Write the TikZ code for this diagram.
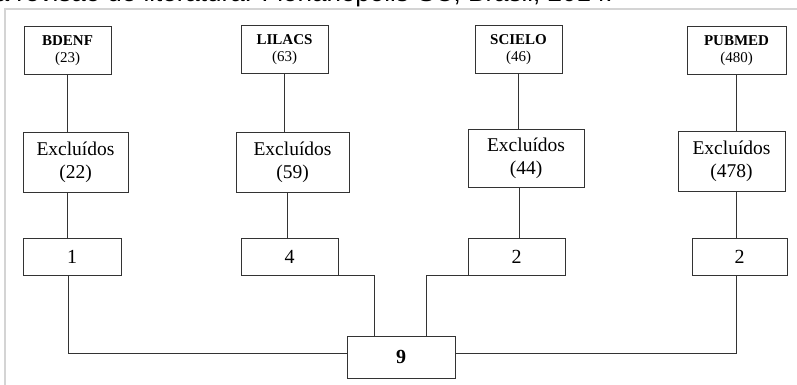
\documentclass[tikz,border=0pt]{standalone}
\usepackage{fontspec}
\setmainfont{Liberation Serif}
\newfontfamily\capfont{Liberation Sans}
\definecolor{ln}{HTML}{333333}
\definecolor{frame}{HTML}{D4D4D4}
\begin{document}
\begin{tikzpicture}[x=1pt,y=-1pt,
  box/.style={draw=ln, line width=1pt, rectangle, inner sep=0pt, align=center, fill=white},
  src/.style={box, minimum width=87pt, minimum height=48pt, font=\fontsize{15}{17}\selectfont},
  exc/.style={box, minimum height=60pt, font=\fontsize{19.5}{23}\selectfont},
  num/.style={box, minimum width=97pt, minimum height=37pt, font=\fontsize{20}{24}\selectfont},
  conn/.style={draw=ln, line width=1pt}]
\useasboundingbox (0,0) rectangle (797,385);
% caption (cut off at top) and frame
\node[anchor=base east, inner sep=0pt, font=\capfont\fontsize{26}{30}\selectfont] (cap) at (613,2) {na revisão de literatura. Florianópolis-SC, Brasil, 2014.};
\draw[frame, line width=1.5pt] (797,9) -- (5,9) -- (5,385);
% source boxes
\node[src] (b1) at (67.5,51) {\textbf{BDENF}\\(23)};
\node[src] (b2) at (284.5,50) {\textbf{LILACS}\\(63)};
\node[src] (b3) at (518.5,50) {\textbf{SCIELO}\\(46)};
\node[src, minimum width=99pt] (b4) at (736.5,51) {\textbf{PUBMED}\\(480)};
% excluded boxes
\node[exc, minimum width=105pt] (e1) at (75.5,162) {Excluídos\\(22)};
\node[exc, minimum width=113pt] (e2) at (292.5,162) {Excluídos\\(59)};
\node[exc, minimum width=116pt, minimum height=58pt] (e3) at (526,158) {Excluídos\\(44)};
\node[exc, minimum width=107pt] (e4) at (731.5,161) {Excluídos\\(478)};
% included boxes
\node[num, minimum width=98pt] (n1) at (72,256.5) {1};
\node[num] (n2) at (289.5,256.5) {4};
\node[num] (n3) at (516.5,256.5) {2};
\node[num, minimum width=95pt] (n4) at (739.5,256.5) {2};
\node[box, minimum width=108pt, minimum height=42pt, font=\fontsize{20}{24}\selectfont\bfseries] (r) at (401,357) {9};
% connectors
\draw[conn] (b1.south) -- (b1.south |- e1.north);
\draw[conn] (b1.south |- e1.south) -- (b1.south |- n1.north);
\draw[conn] ([xshift=1pt]b1.south |- n1.south) |- ([yshift=4pt]r.west);
\draw[conn] (b2.south) -- (b2.south |- e2.north);
\draw[conn] ([xshift=3pt]b2.south |- e2.south) -- ([xshift=3pt]b2.south |- n2.north);
\draw[conn] (n2.south east) -| ([xshift=-27pt]r.north);
\draw[conn] (b3.south) -- (b3.south |- e3.north);
\draw[conn] ([xshift=1pt]b3.south |- e3.south) -- ([xshift=1pt]b3.south |- n3.north);
\draw[conn] (n3.south west) -| ([xshift=25pt]r.north);
\draw[conn] (b4.south) -- (b4.south |- e4.north);
\draw[conn] (b4.south |- e4.south) -- (b4.south |- n4.north);
\draw[conn] (b4.south |- n4.south) |- ([yshift=4pt]r.east);
\end{tikzpicture}
\end{document}
